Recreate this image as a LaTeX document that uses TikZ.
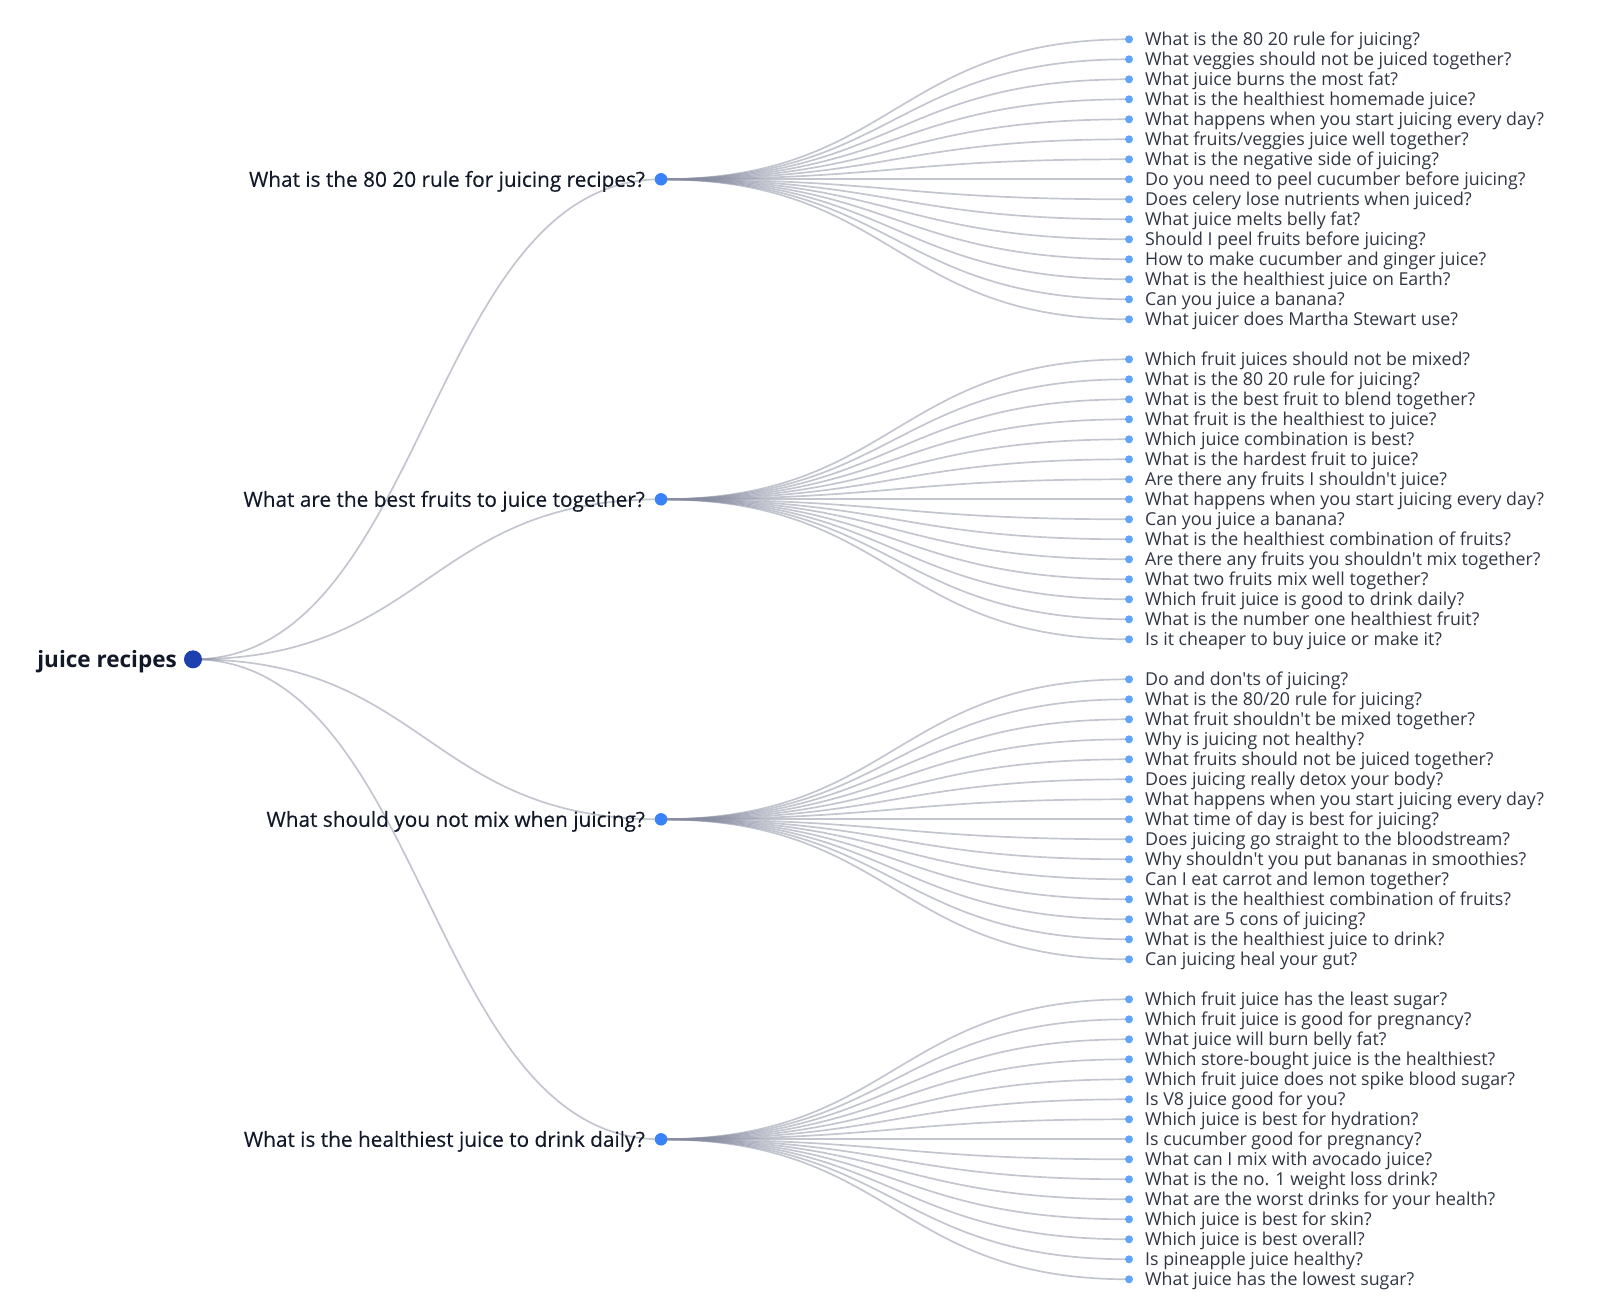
\documentclass[tikz,border=0pt]{standalone}
\usepackage{fontspec}
\setmainfont{Open Sans}[Ligatures=TeXOff]
\newfontfamily\midfont{Open Sans}[FakeBold=0.35,Ligatures=TeXOff]
\usetikzlibrary{backgrounds,calc}
\definecolor{rootc}{HTML}{1E40AF}
\definecolor{midc}{HTML}{3B82F6}
\definecolor{leafc}{HTML}{60A5FA}
\definecolor{linkc}{HTML}{878CA0}
\definecolor{txtc}{HTML}{111827}
\definecolor{leaftxt}{HTML}{2F3542}
\tikzset{
  rootdot/.style={circle,fill=rootc,inner sep=0pt,minimum size=18pt},
  middot/.style={circle,fill=midc,inner sep=0pt,minimum size=12.5pt},
  leafdot/.style={circle,fill=leafc,inner sep=0pt,minimum size=8pt},
  roottext/.style={inner sep=0pt,anchor=base east,text=txtc,font=\bfseries\fontsize{22.5}{26}\selectfont},
  midtext/.style={inner sep=0pt,anchor=base east,text=txtc,font=\midfont\fontsize{20.8}{24}\selectfont},
  leaftext/.style={inner sep=0pt,anchor=base west,text=leaftxt,font=\fontsize{17.8}{20}\selectfont},
  link/.style={draw=linkc,draw opacity=0.5,line width=1.7pt},
}
\newcommand\hlink[2]{%
  \draw[link] let \p1=(#1.center), \p2=(#2.center) in
    (\p1) .. controls ({(\x1+\x2)/2},\y1) and ({(\x1+\x2)/2},\y2) .. (\p2);}
\newcommand\leafgroup[3]{% group index, label, list
  \pgfmathsetmacro\gy{179.3+320*#1}
  \node[middot] (m#1) at (661,\gy) {};
  \node[midtext] (mt#1) at (645,\gy+7.5) {#2};
  \begin{pgfonlayer}{background}\hlink{r}{m#1}\end{pgfonlayer}
  \foreach \t [count=\i from 0] in {#3}{%
    \pgfmathsetmacro\ly{39.3+20*(16*#1+\i)}
    \node[leafdot] (ld-#1-\i) at (1129,\ly) {};
    \node[leaftext] (lt-#1-\i) at (1145,\ly+6.5) {\t};
    \begin{pgfonlayer}{background}\hlink{m#1}{ld-#1-\i}\end{pgfonlayer}
  }}
\begin{document}
\begin{tikzpicture}[x=1pt,y=-1pt]
\useasboundingbox (0,0) rectangle (1600,1316);
\node[rootdot] (r) at (193,659.3) {};
\node[roottext] (rt) at (177,667.2) {juice recipes};
\leafgroup{0}{What is the 80 20 rule for juicing recipes?}{What is the 80 20 rule for juicing?,What veggies should not be juiced together?,What juice burns the most fat?,What is the healthiest homemade juice?,What happens when you start juicing every day?,What fruits/veggies juice well together?,What is the negative side of juicing?,Do you need to peel cucumber before juicing?,Does celery lose nutrients when juiced?,What juice melts belly fat?,Should I peel fruits before juicing?,How to make cucumber and ginger juice?,What is the healthiest juice on Earth?,Can you juice a banana?,What juicer does Martha Stewart use?}
\leafgroup{1}{What are the best fruits to juice together?}{Which fruit juices should not be mixed?,What is the 80 20 rule for juicing?,What is the best fruit to blend together?,What fruit is the healthiest to juice?,Which juice combination is best?,What is the hardest fruit to juice?,Are there any fruits I shouldn't juice?,What happens when you start juicing every day?,Can you juice a banana?,What is the healthiest combination of fruits?,Are there any fruits you shouldn't mix together?,What two fruits mix well together?,Which fruit juice is good to drink daily?,What is the number one healthiest fruit?,Is it cheaper to buy juice or make it?}
\leafgroup{2}{What should you not mix when juicing?}{Do and don'ts of juicing?,What is the 80/20 rule for juicing?,What fruit shouldn't be mixed together?,Why is juicing not healthy?,What fruits should not be juiced together?,Does juicing really detox your body?,What happens when you start juicing every day?,What time of day is best for juicing?,Does juicing go straight to the bloodstream?,Why shouldn't you put bananas in smoothies?,Can I eat carrot and lemon together?,What is the healthiest combination of fruits?,What are 5 cons of juicing?,What is the healthiest juice to drink?,Can juicing heal your gut?}
\leafgroup{3}{What is the healthiest juice to drink daily?}{Which fruit juice has the least sugar?,Which fruit juice is good for pregnancy?,What juice will burn belly fat?,Which store-bought juice is the healthiest?,Which fruit juice does not spike blood sugar?,Is V8 juice good for you?,Which juice is best for hydration?,Is cucumber good for pregnancy?,What can I mix with avocado juice?,What is the no. 1 weight loss drink?,What are the worst drinks for your health?,Which juice is best for skin?,Which juice is best overall?,Is pineapple juice healthy?,What juice has the lowest sugar?}
\end{tikzpicture}
\end{document}
